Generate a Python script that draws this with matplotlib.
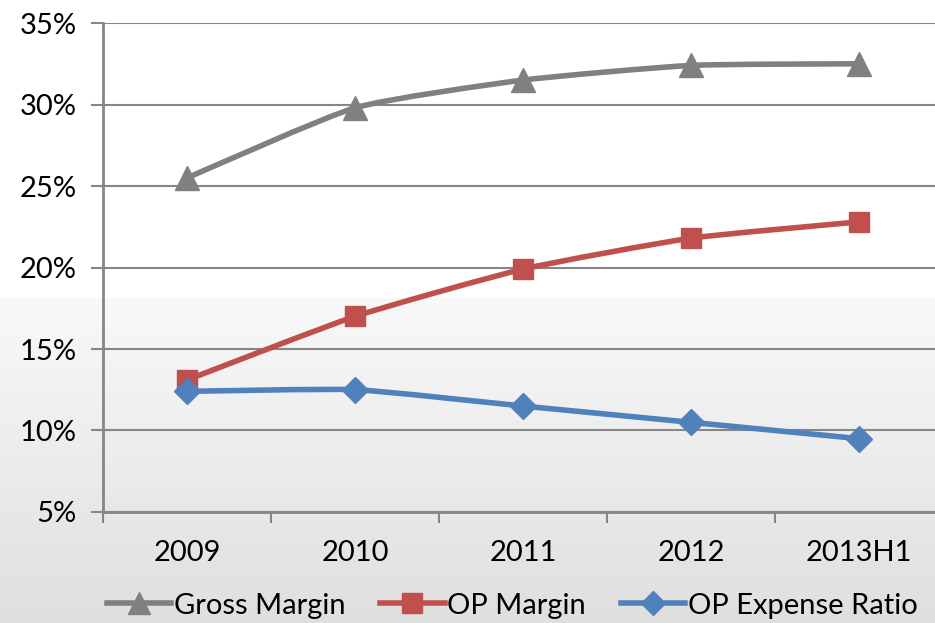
import numpy as np
import matplotlib
matplotlib.use("Agg")
import matplotlib.pyplot as plt
from matplotlib.path import Path
from matplotlib.patches import PathPatch
from matplotlib.lines import Line2D

years = ["2009", "2010", "2011", "2012", "2013H1"]
gross_margin = [25.5, 29.8, 31.5, 32.4, 32.5]
op_margin = [13.1, 17.0, 19.9, 21.8, 22.8]
op_expense = [12.4, 12.5, 11.5, 10.5, 9.5]
yticks = [5, 10, 15, 20, 25, 30, 35]

plt.rcParams['font.family'] = ['Lato', 'DejaVu Sans']

fig = plt.figure(figsize=(9.35, 6.23), dpi=100)

# background: white top, grey gradient in lower half
bg = fig.add_axes([0, 0, 1, 1], zorder=-10)
h = 623
grad = np.ones((h, 1))
split = 298
for i in range(split, h):
    t = (i - split) / (h - split)
    grad[i, 0] = 0.975 - 0.1 * t
bg.imshow(np.dstack([grad, grad, grad]), aspect='auto', extent=[0, 1, 0, 1])
bg.axis('off')

ax = fig.add_axes([0.1102, 0.1782, 0.8984, 0.7848])
ax.patch.set_alpha(0)

x = np.arange(len(years))


def smooth_path(xs, ys, k=0.09):
    # Excel-like smoothed line as cubic bezier
    pts = list(zip(xs, ys))
    verts = [pts[0]]
    codes = [Path.MOVETO]
    n = len(pts)
    for i in range(n - 1):
        p0 = pts[i - 1] if i > 0 else pts[i]
        p1 = pts[i]
        p2 = pts[i + 1]
        p3 = pts[i + 2] if i + 2 < n else pts[i + 1]
        c1 = (p1[0] + (p2[0] - p0[0]) * k, p1[1] + (p2[1] - p0[1]) * k)
        c2 = (p2[0] - (p3[0] - p1[0]) * k, p2[1] - (p3[1] - p1[1]) * k)
        verts += [c1, c2, p2]
        codes += [Path.CURVE4] * 3
    return Path(verts, codes)


series = [
    ("Gross Margin", gross_margin, "#808080", "^", 17),
    ("OP Margin", op_margin, "#C0504D", "s", 15),
    ("OP Expense Ratio", op_expense, "#4F81BD", "D", 13),
]

handles = []
for name, vals, col, mk, ms in series:
    ax.add_patch(PathPatch(smooth_path(x, vals), facecolor='none', edgecolor=col,
                           lw=4, capstyle='round', joinstyle='round', zorder=3))
    ax.plot(x, vals, ls='none', marker=mk, ms=ms, color=col, mec=col, zorder=4)
    handles.append(Line2D([0], [0], color=col, lw=4, marker=mk, ms=ms - 1, mec=col))

ax.set_xlim(-0.5, 4.5)
ax.set_ylim(5, 35)
ax.set_yticks(yticks)
ax.set_yticklabels([f"{v}%" for v in yticks], fontsize=21)
ax.set_xticks(x)
ax.set_xticklabels(years, fontsize=21)
ax.set_xticks(np.arange(-0.5, 5, 1), minor=True)
ax.tick_params(axis='x', which='major', length=0, pad=20)
ax.tick_params(axis='x', which='minor', length=8, width=1.5, color='#868686')
ax.tick_params(axis='y', length=9, width=1.5, color='#868686', pad=10)

ax.grid(axis='y', color='#868686', lw=1.5)
ax.set_axisbelow(True)
for s in ['top', 'right']:
    ax.spines[s].set_visible(False)
for s in ['left', 'bottom']:
    ax.spines[s].set_color('#868686')
    ax.spines[s].set_linewidth(2)

fig.legend(handles, [s[0] for s in series], loc='center', ncol=3,
           bbox_to_anchor=(0.548, 0.028), frameon=False, fontsize=21,
           handlelength=2.2, handletextpad=0.1, columnspacing=1.2)

fig.savefig("out.png", dpi=100)
